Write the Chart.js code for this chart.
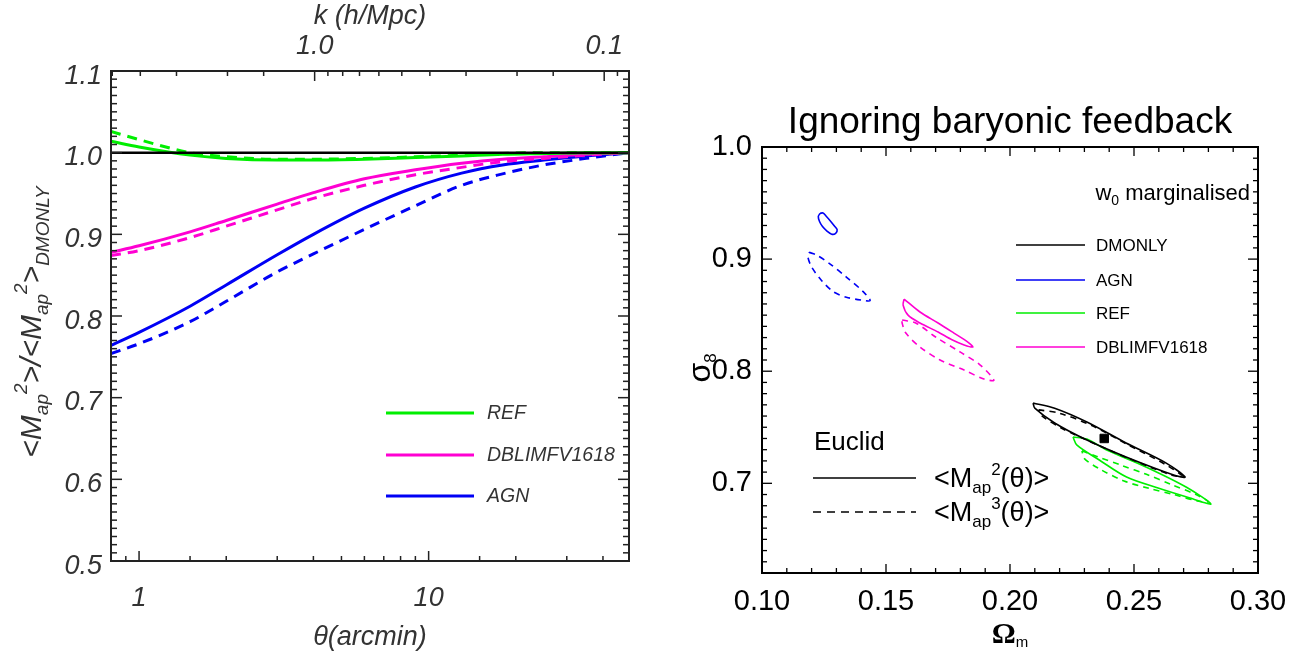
<!DOCTYPE html>
<html>
<head>
<meta charset="utf-8">
<script src="https://cdn.jsdelivr.net/npm/chart.js@4.4.1/dist/chart.umd.min.js"></script>
<style>
  html, body { margin: 0; padding: 0; background: #fff; }
  body { width: 1309px; height: 659px; position: relative; overflow: hidden; }
  .panel { position: absolute; top: 0; height: 659px; }
  #left { left: 0; width: 650px; }
  #right { left: 660px; width: 649px; }
</style>
</head>
<body>
<div class="panel" id="left"><canvas id="mapRatio"></canvas></div>
<div class="panel" id="right"><canvas id="contours"></canvas></div>
<script>
// ---- left panel: ratio to DMONLY vs theta ----
const theta = [0.8, 1.0, 1.5, 2, 3, 4, 6, 9, 13, 18, 25, 35, 49];
const dmonlyRatio = [1, 1, 1, 1, 1, 1, 1, 1, 1, 1, 1, 1, 1];
const refSolid    = [1.014, 1.007, 0.997, 0.993, 0.991, 0.991, 0.992, 0.994, 0.996, 0.998, 0.999, 1.0, 1.0];
const refDashed   = [1.026, 1.016, 1.000, 0.995, 0.992, 0.992, 0.993, 0.995, 0.997, 0.999, 1.0, 1.0, 1.0];
const dblimSolid  = [0.878, 0.886, 0.903, 0.917, 0.937, 0.951, 0.968, 0.979, 0.987, 0.992, 0.995, 0.998, 1.0];
const dblimDashed = [0.874, 0.880, 0.896, 0.910, 0.930, 0.944, 0.960, 0.973, 0.982, 0.989, 0.993, 0.997, 1.0];
const agnSolid    = [0.764, 0.780, 0.812, 0.838, 0.875, 0.900, 0.932, 0.958, 0.975, 0.985, 0.991, 0.996, 1.0];
const agnDashed   = [0.754, 0.766, 0.793, 0.818, 0.854, 0.876, 0.906, 0.935, 0.960, 0.974, 0.985, 0.993, 1.0];
const thetaLabels = [1, 10];
const kLabels = [1.0, 0.1];

// ---- right panel: contours in (Omega_m, sigma_8) ----
const agnM2 = [[0.1234,0.9408],[0.1246,0.9412],[0.1258,0.9385],[0.1274,0.9345],[0.1292,0.9295],[0.1303,0.9262],
  [0.1297,0.9230],[0.1281,0.9222],[0.1262,0.9250],[0.1244,0.9290],[0.1232,0.9335],[0.1227,0.9380],[0.1234,0.9408]];
const agnM3 = [[0.119,0.906],[0.122,0.9037],[0.1275,0.8956],[0.134,0.884],[0.1408,0.871],[0.1436,0.863],
  [0.140,0.8635],[0.134,0.866],[0.1287,0.871],[0.124,0.881],[0.120,0.893],[0.1185,0.902],[0.119,0.906]];
const dblimM2 = [[0.1573,0.8644],[0.1637,0.8528],[0.171,0.843],[0.1774,0.834],[0.183,0.826],[0.185,0.8216],
  [0.1815,0.8234],[0.1766,0.828],[0.171,0.835],[0.1637,0.843],[0.1589,0.850],[0.1569,0.859],[0.1573,0.8644]];
const dblimM3 = [[0.1565,0.8457],[0.162,0.843],[0.170,0.8305],[0.180,0.817],[0.188,0.8055],[0.1935,0.792],
  [0.1895,0.793],[0.1815,0.801],[0.1718,0.810],[0.1637,0.8216],[0.158,0.834],[0.1565,0.843],[0.1565,0.8457]];
const dmonlyM2 = [[0.2093,0.7717],[0.218,0.767],[0.231,0.7547],[0.2468,0.736],[0.263,0.718],[0.2706,0.7056],
  [0.266,0.7074],[0.2468,0.7235],[0.231,0.7386],[0.218,0.7538],[0.210,0.767],[0.2093,0.7717]];
const dmonlyM3 = [[0.2115,0.7655],[0.220,0.7625],[0.233,0.7515],[0.2475,0.7345],[0.2625,0.717],[0.2695,0.7065],
  [0.265,0.7075],[0.2475,0.7225],[0.233,0.7365],[0.2205,0.7495],[0.213,0.760],[0.2115,0.7655]];
const refM2 = [[0.2254,0.7413],[0.231,0.7395],[0.239,0.7297],[0.2548,0.7146],[0.271,0.6967],[0.281,0.6816],
  [0.2726,0.6869],[0.2597,0.6958],[0.247,0.7056],[0.236,0.7208],[0.227,0.734],[0.2254,0.7413]];
const refM3 = [[0.229,0.729],[0.235,0.724],[0.245,0.716],[0.255,0.708],[0.265,0.699],[0.275,0.690],[0.280,0.6835],
  [0.276,0.684],[0.266,0.690],[0.256,0.6955],[0.246,0.702],[0.236,0.713],[0.230,0.722],[0.229,0.729]];
const fiducial = [[0.238, 0.740]];

const SANS = '"Liberation Sans", Arial, sans-serif';
const GREEN = 'rgb(0,238,0)';
const MAGENTA = 'rgb(255,0,210)';
const BLUE = 'rgb(0,0,245)';
const GREY = '#333';

function near(v, list) {
  return list.some(t => Math.abs(v - t) < 1e-6 * Math.max(1, t));
}
function onStep(v, step) {
  return Math.abs(v / step - Math.round(v / step)) < 1e-6;
}

// draws text made of pieces with their own size / baseline shift
function richText(ctx, parts, x, y, align, rotate) {
  ctx.save();
  ctx.translate(x, y);
  if (rotate) ctx.rotate(-Math.PI / 2);
  ctx.textBaseline = 'alphabetic';
  ctx.textAlign = 'left';
  let total = 0;
  parts.forEach(p => { ctx.font = p.font; p.w = ctx.measureText(p.t).width; total += p.w; });
  let cx = align === 'center' ? -total / 2 : align === 'right' ? -total : 0;
  parts.forEach(p => {
    ctx.font = p.font;
    ctx.fillStyle = p.color;
    ctx.fillText(p.t, cx, p.dy || 0);
    cx += p.w;
  });
  ctx.restore();
}

// box frame with inward ticks, like the IDL plots
function frameTicks(spec) {
  return {
    id: 'frameTicks',
    afterDraw(chart) {
      const ctx = chart.ctx, a = chart.chartArea;
      ctx.save();
      ctx.strokeStyle = spec.color;
      ctx.lineWidth = spec.tickWidth;
      spec.axes.forEach(ax => {
        const s = chart.scales[ax.id];
        s.ticks.forEach(t => {
          const p = s.getPixelForValue(t.value);
          const len = ax.isMajor(t.value) ? ax.long : ax.short;
          ax.sides.forEach(side => {
            const horiz = side === 'top' || side === 'bottom';
            if (horiz && (p < a.left + 1 || p > a.right - 1)) return;
            if (!horiz && (p < a.top + 1 || p > a.bottom - 1)) return;
            ctx.beginPath();
            if (side === 'bottom') { ctx.moveTo(p, a.bottom); ctx.lineTo(p, a.bottom - len); }
            if (side === 'top') { ctx.moveTo(p, a.top); ctx.lineTo(p, a.top + len); }
            if (side === 'left') { ctx.moveTo(a.left, p); ctx.lineTo(a.left + len, p); }
            if (side === 'right') { ctx.moveTo(a.right, p); ctx.lineTo(a.right - len, p); }
            ctx.stroke();
          });
        });
      });
      ctx.lineWidth = spec.frameWidth;
      ctx.strokeRect(a.left, a.top, a.right - a.left, a.bottom - a.top);
      ctx.restore();
    }
  };
}

function annotations(draw) {
  return { id: 'annotations', afterDraw(chart) { draw(chart.ctx, chart.chartArea); } };
}

function curve(values, color, dashed, width) {
  return {
    data: theta.map((t, i) => ({ x: t, y: values[i] })),
    borderColor: color,
    borderWidth: width || 3,
    borderDash: dashed ? [10, 7] : [],
    pointRadius: 0,
    cubicInterpolationMode: 'monotone',
    fill: false
  };
}

function contour(pts, color, dashed) {
  return {
    data: pts.map(([x, y]) => ({ x, y })),
    showLine: true,
    borderColor: color,
    borderWidth: 1.6,
    borderDash: dashed ? [6, 5] : [],
    pointRadius: 0,
    tension: 0.3,
    fill: false
  };
}

const italic = size => ({ family: SANS, size: size, style: 'italic', lineHeight: 1.2 });
const upright = size => ({ family: SANS, size: size, lineHeight: 1.2 });
const hidden = { display: false, drawTicks: false };

// ---------------- left chart ----------------
new Chart(document.getElementById('mapRatio'), {
  type: 'line',
  data: {
    datasets: [
      curve(dmonlyRatio, '#000', false, 2.5),
      curve(refSolid, GREEN, false),
      curve(refDashed, GREEN, true),
      curve(dblimSolid, MAGENTA, false),
      curve(dblimDashed, MAGENTA, true),
      curve(agnSolid, BLUE, false),
      curve(agnDashed, BLUE, true)
    ]
  },
  options: {
    responsive: true,
    maintainAspectRatio: false,
    animation: false,
    events: [],
    layout: { padding: { right: 17 } },
    plugins: { legend: { display: false }, tooltip: { enabled: false } },
    scales: {
      x: {
        type: 'logarithmic', position: 'bottom', min: 0.8, max: 49.2,
        grid: hidden, border: { display: false },
        ticks: {
          autoSkip: false, maxRotation: 0, padding: 21, color: GREY, font: italic(27),
          callback: v => near(v, thetaLabels) ? String(Math.round(v)) : ''
        },
        title: { display: true, text: 'θ(arcmin)', color: GREY, font: italic(27), padding: { top: 0, bottom: 5 } },
        afterFit: s => { s.height = 98; }
      },
      x2: {
        type: 'logarithmic', position: 'top', reverse: true, min: 0.0821, max: 5.05,
        grid: hidden, border: { display: false },
        ticks: {
          autoSkip: false, maxRotation: 0, padding: 8, color: GREY, font: italic(27),
          callback: v => near(v, kLabels) ? v.toFixed(1) : ''
        },
        title: { display: true, text: 'k (h/Mpc)', color: GREY, font: italic(27), padding: { top: 0, bottom: 0 } },
        afterFit: s => { s.height = 71; }
      },
      y: {
        type: 'linear', min: 0.5, max: 1.1,
        grid: hidden, border: { display: false },
        ticks: {
          stepSize: 0.01, autoSkip: false, padding: 9, labelOffset: 5, color: GREY, font: italic(27),
          callback: v => onStep(v, 0.1) ? v.toFixed(1) : ''
        },
        afterFit: s => { s.width = 111; }
      }
    }
  },
  plugins: [
    frameTicks({
      color: '#222', tickWidth: 1.5, frameWidth: 2,
      axes: [
        { id: 'x', sides: ['bottom'], isMajor: v => near(v, [1, 10]), long: 10, short: 5 },
        { id: 'x2', sides: ['top'], isMajor: v => near(v, [1, 0.1]), long: 10, short: 5 },
        { id: 'y', sides: ['left', 'right'], isMajor: v => onStep(v, 0.1), long: 11, short: 6 }
      ]
    }),
    annotations(ctx => {
      const big = 'italic 30px ' + SANS, small = 'italic 19px ' + SANS;
      richText(ctx, [
        { t: '<M', font: big, color: GREY },
        { t: 'ap', font: small, color: GREY, dy: 7 },
        { t: '2', font: small, color: GREY, dy: -14 },
        { t: '>/<M', font: big, color: GREY },
        { t: 'ap', font: small, color: GREY, dy: 7 },
        { t: '2', font: small, color: GREY, dy: -14 },
        { t: '>', font: big, color: GREY },
        { t: 'DMONLY', font: small, color: GREY, dy: 8 }
      ], 41, 322, 'center', true);

      const rows = [['REF', GREEN, 413], ['DBLIMFV1618', MAGENTA, 455], ['AGN', BLUE, 496]];
      ctx.save();
      ctx.lineWidth = 3;
      ctx.font = 'italic 19.5px ' + SANS;
      ctx.textBaseline = 'middle';
      rows.forEach(([label, color, y]) => {
        ctx.strokeStyle = color;
        ctx.beginPath(); ctx.moveTo(386, y); ctx.lineTo(474, y); ctx.stroke();
        ctx.fillStyle = GREY;
        ctx.fillText(label, 487, y + 1);
      });
      ctx.restore();
    })
  ]
});

// ---------------- right chart ----------------
new Chart(document.getElementById('contours'), {
  type: 'scatter',
  data: {
    datasets: [
      contour(agnM2, BLUE, false),
      contour(agnM3, BLUE, true),
      contour(dblimM2, MAGENTA, false),
      contour(dblimM3, MAGENTA, true),
      contour(dmonlyM2, '#000', false),
      contour(dmonlyM3, '#000', true),
      contour(refM2, GREEN, false),
      contour(refM3, GREEN, true),
      {
        data: fiducial.map(([x, y]) => ({ x, y })),
        pointStyle: 'rect', pointRadius: 6, backgroundColor: '#000', borderColor: '#000', showLine: false
      }
    ]
  },
  options: {
    responsive: true,
    maintainAspectRatio: false,
    animation: false,
    events: [],
    layout: { padding: { top: 147, right: 51 } },
    plugins: { legend: { display: false }, tooltip: { enabled: false } },
    scales: {
      x: {
        type: 'linear', min: 0.10, max: 0.30,
        grid: hidden, border: { display: false },
        ticks: {
          stepSize: 0.01, autoSkip: false, maxRotation: 0, padding: 12, color: '#000', font: upright(29),
          callback: v => onStep(v, 0.05) ? v.toFixed(2) : ''
        },
        afterFit: s => { s.height = 86; }
      },
      y: {
        type: 'linear', min: 0.62, max: 1.0,
        grid: hidden, border: { display: false },
        ticks: {
          stepSize: 0.01, autoSkip: false, padding: 10, color: '#000', font: upright(29),
          callback: v => onStep(v, 0.1) ? v.toFixed(1) : ''
        },
        afterFit: s => { s.width = 102; }
      }
    }
  },
  plugins: [
    frameTicks({
      color: '#000', tickWidth: 1.3, frameWidth: 2,
      axes: [
        { id: 'x', sides: ['bottom', 'top'], isMajor: v => onStep(v, 0.05), long: 9, short: 5 },
        { id: 'y', sides: ['left', 'right'], isMajor: v => onStep(v, 0.1), long: 10, short: 5 }
      ]
    }),
    annotations((ctx, a) => {
      const mid = (a.left + a.right) / 2;
      ctx.save();
      ctx.fillStyle = '#000';
      ctx.textAlign = 'center';
      ctx.textBaseline = 'alphabetic';
      ctx.font = '37px ' + SANS;
      ctx.fillText('Ignoring baryonic feedback', mid, 133);
      ctx.restore();

      richText(ctx, [
        { t: 'w', font: '22px ' + SANS, color: '#000' },
        { t: '0', font: '14px ' + SANS, color: '#000', dy: 5 },
        { t: ' marginalised', font: '22px ' + SANS, color: '#000' }
      ], 590, 200, 'right', false);

      const rows = [['DMONLY', '#000', 245], ['AGN', BLUE, 280], ['REF', GREEN, 313], ['DBLIMFV1618', MAGENTA, 347]];
      ctx.save();
      ctx.lineWidth = 1.6;
      ctx.font = '17px ' + SANS;
      ctx.textBaseline = 'middle';
      rows.forEach(([label, color, y]) => {
        ctx.strokeStyle = color;
        ctx.beginPath(); ctx.moveTo(356, y); ctx.lineTo(425, y); ctx.stroke();
        ctx.fillStyle = '#000';
        ctx.fillText(label, 436, y + 1);
      });

      ctx.font = '26px ' + SANS;
      ctx.textBaseline = 'alphabetic';
      ctx.fillText('Euclid', 154, 450);
      ctx.strokeStyle = '#000';
      ctx.lineWidth = 1.4;
      ctx.beginPath(); ctx.moveTo(153, 478); ctx.lineTo(256, 478); ctx.stroke();
      ctx.setLineDash([8, 6]);
      ctx.beginPath(); ctx.moveTo(153, 512); ctx.lineTo(256, 512); ctx.stroke();
      ctx.restore();

      const f = '27px ' + SANS, s = '17px ' + SANS;
      [['2', 487], ['3', 521]].forEach(([pow, y]) => {
        richText(ctx, [
          { t: '<M', font: f, color: '#000' },
          { t: 'ap', font: s, color: '#000', dy: 6 },
          { t: pow, font: s, color: '#000', dy: -12 },
          { t: '(θ)>', font: f, color: '#000' }
        ], 274, y, 'left', false);
      });

      richText(ctx, [
        { t: 'Ω', font: 'bold 30px "Liberation Serif", serif', color: '#000' },
        { t: 'm', font: '15px ' + SANS, color: '#000', dy: 4 }
      ], mid, 643, 'center', false);

      richText(ctx, [
        { t: 'σ', font: '32px ' + SANS, color: '#000' },
        { t: '8', font: '17px ' + SANS, color: '#000', dy: 6 }
      ], 50, 368, 'center', true);
    })
  ]
});
</script>
</body>
</html>
